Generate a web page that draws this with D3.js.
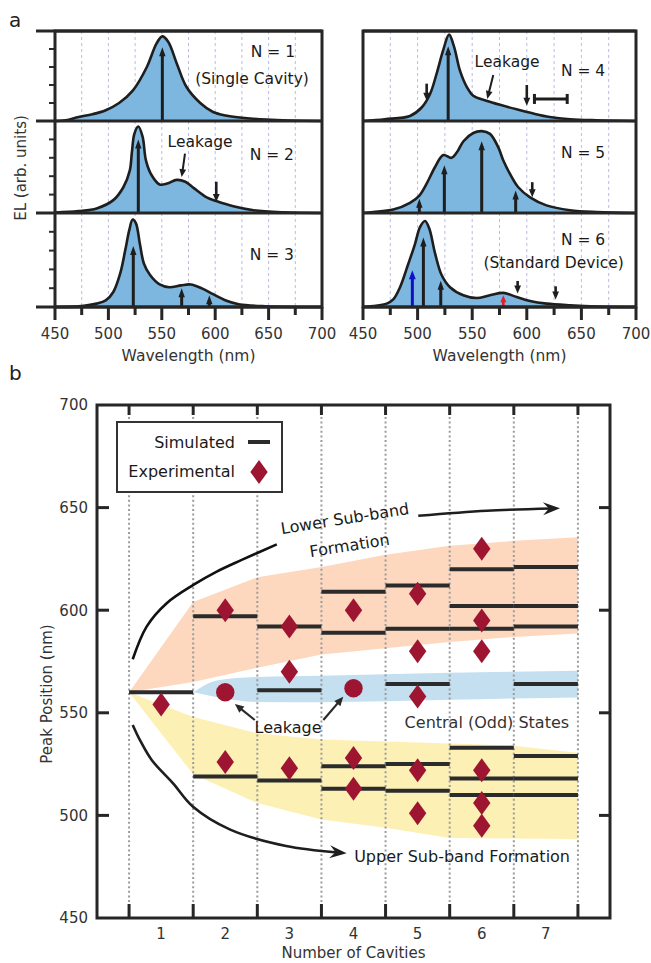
<!DOCTYPE html>
<html>
<head>
<meta charset="utf-8">
<script src="https://cdn.jsdelivr.net/npm/d3@7/dist/d3.min.js"></script>
<style>
  body { margin: 0; background: #fff; }
  text { font-family: "DejaVu Sans", sans-serif; fill: #2a2a2a; }
</style>
</head>
<body>
<svg id="fig" width="651" height="963"></svg>
<script>
// ---------- panel a: EL spectra, [wavelength (nm), normalised EL]
const specN1 = [[450,0],[460,0.008],[472,0.044],[485,0.075],[497.5,0.12],[510,0.2],[523,0.34],[536,0.6],[545,0.86],[550.5,0.94],[556,0.88],[564,0.64],[573,0.38],[586,0.2],[598,0.1],[610,0.06],[623,0.038],[648,0.015],[670,0.005],[700,0]];
const specN2 = [[450,0.004],[472,0.02],[489,0.05],[504.6,0.14],[514,0.28],[520,0.46],[522,0.66],[524.3,0.86],[528,0.94],[532,0.83],[535.2,0.57],[540.5,0.41],[548,0.31],[555,0.32],[564,0.36],[572,0.34],[580,0.27],[592,0.17],[601,0.13],[617,0.073],[636,0.03],[664,0.008],[700,0]];
const specN3 = [[450,0],[472,0.007],[489,0.036],[497.5,0.07],[504.6,0.16],[511,0.355],[515.7,0.6],[519.6,0.82],[522.7,0.93],[525.8,0.89],[529.5,0.67],[533.3,0.46],[539,0.34],[548,0.24],[557,0.21],[568,0.23],[577,0.24],[588,0.195],[597.5,0.14],[610,0.07],[622,0.03],[647,0.008],[700,0]];
const specN4 = [[450,0],[470,0.02],[493,0.056],[503.7,0.15],[511.4,0.3],[517.5,0.53],[523.5,0.79],[528.8,0.96],[533.3,0.83],[538.8,0.56],[545,0.38],[551,0.28],[563,0.226],[575.5,0.18],[590.7,0.13],[606,0.083],[621,0.045],[639.6,0.02],[664,0.008],[700,0]];
const specN5 = [[450,0],[459.5,0.01],[477.7,0.037],[493,0.11],[501.6,0.19],[508.3,0.32],[516,0.5],[523.5,0.63],[531,0.6],[536,0.66],[542,0.78],[551,0.87],[558.7,0.89],[566.3,0.86],[574,0.71],[578.5,0.57],[584.6,0.425],[592.2,0.28],[603,0.17],[618,0.083],[639.6,0.03],[664,0.01],[700,0]];
const specN6 = [[450,0],[459.4,0.01],[471.7,0.036],[477.7,0.08],[483.9,0.21],[491.5,0.46],[497.6,0.67],[502.2,0.85],[506.8,0.915],[510.7,0.835],[516,0.57],[522,0.34],[529.7,0.21],[541.8,0.125],[554,0.096],[566.3,0.125],[578.5,0.15],[590.7,0.106],[603,0.064],[618.2,0.036],[639.6,0.018],[664,0.005],[700,0]];
const spectra = [specN1, specN2, specN3, specN4, specN5, specN6];

// arrows: up = [nm, top], down = [nm, from, to]
const upArrows = [[[550.5,0.82]], [[528,0.8]], [[523.3,0.65],[568.6,0.2],[594.5,0.125]], [[528,0.83]], [[501.6,0.155],[524.5,0.52],[558.7,0.78],[589.8,0.245]], [[505.3,0.74],[521.2,0.28]]];
const downArrows = [[], [[601,0.34,0.12]], [], [[508.3,0.415,0.226],[600,0.4,0.17]], [[605,0.335,0.17]], [[591.6,0.277,0.143],[626.4,0.22,0.079]]];
const blueArrowsN6 = [[495.2,0.39]];
const redArrowsN6 = [[578.5,0.125]];
const leakArrowN2 = [[571.7,0.645],[568.6,0.39]];
const leakArrowN4 = [[569.3,0.51],[563.8,0.245]];
const scaleBarN4 = [607, 637, 0.245];

// panel texts: [text, nm (centre), EL (baseline)]
const panelTexts = [
  [["N = 1",654,0.706],["(Single Cavity)",634.5,0.41]],
  [["Leakage",585.8,0.717],["N = 2",653,0.576]],
  [["N = 3",653,0.5]],
  [["Leakage",581.9,0.6],["N = 4",651.5,0.5]],
  [["N = 5",651.5,0.6]],
  [["N = 6",651.5,0.66],["(Standard Device)",624.6,0.415]]
];
const wlTicks = [450,500,550,600,650,700];
const wlMinor = [475,525,575,625,675];
const wlGrid = [475,500,525,550,575,600,625,650,675];
const elTicks = [0.2,0.4,0.6,0.8];

// ---------- panel b: peak positions
const cavities = [1,2,3,4,5,6,7];
const simulated = [[560],[597,519],[592,561,517],[609,589,524,513],[612,591,564,525,512],[620,602,591,533,518,510],[621,602,592,564,529,518,510]];
const experimental = [[554],[600,526],[592,570,523],[600,528,513],[608,580,558,522,501],[630,595,580,522,506,495],[]];
const leakagePts = [[2,560],[4,562]];
const bandX = [0.5,1.5,2.5,3.5,4.5,5.5,6.5,7.5];
const lowerBandTop = [560,604,616,621,627,631.4,633.8,635.5];
const lowerBandBot = [560,565,572,578.4,581.5,584.5,587,588.7];
const upperBandTop = [560,548,540,537,536,535,534,530.5];
const upperBandBot = [560,520,506,498,494,489,488.7,488.5];
const centralX = [1.5,1.87,2.5,3.5,4.5,5.5,6.5,7.5];
const centralTop = [560,565.8,567.5,568,568.8,569.5,570,570.5];
const centralBot = [560,557.6,555.3,555.2,555.6,556.3,557,557.5];
const peakTicks = [450,500,550,600,650,700];
const cellEdges = [0.5,1.5,2.5,3.5,4.5,5.5,6.5,7.5];
// annotation paths in (cavities, nm)
const arcLowerBand = [[0.557,576.1],[0.774,592],[1.087,603.4],[1.502,612.3],[1.867,618.8],[2.257,624.5],[2.803,632.1]];
const arrowLowerBand = [[5.01,646],[6.08,648.5],[7.22,649.7]];
const arcUpperBand = [[0.557,544.1],[0.67,536.7],[0.853,527],[1.186,515.6],[1.498,504.2],[2.069,493.2],[2.949,485.1],[3.892,481.5]];
const leakArrowsB = [[[2.46,546.5],[2.15,554.3]], [[3.53,546.5],[3.84,557.8]]];

const svg = d3.select('#fig');
const INK = '#1e1e1e';

function drawArrow(g, p1, p2, o) {
  const {color = INK, width = 2.5, hl = 8, hw = 3.5, notch = 0} = o || {};
  const dx = p2[0] - p1[0], dy = p2[1] - p1[1], L = Math.hypot(dx, dy), ux = dx / L, uy = dy / L;
  const bx = p2[0] - ux * hl, by = p2[1] - uy * hl;
  g.append('line')
    .attr('x1', p1[0]).attr('y1', p1[1])
    .attr('x2', p2[0] - ux * hl * 0.6).attr('y2', p2[1] - uy * hl * 0.6)
    .attr('stroke', color).attr('stroke-width', width);
  const nx = p2[0] - ux * hl * (1 - notch), ny = p2[1] - uy * hl * (1 - notch);
  g.append('path')
    .attr('d', `M${p2[0]},${p2[1]}L${bx - uy * hw},${by + ux * hw}L${nx},${ny}L${bx + uy * hw},${by - ux * hw}Z`)
    .attr('fill', color);
}

function curveArrow(g, pts, o) {
  const {color = INK, width = 2.5, hl = 16, hw = 6, notch = 0.3} = o || {};
  const p = g.append('path')
    .attr('d', d3.line().curve(d3.curveCatmullRom)(pts))
    .attr('fill', 'none').attr('stroke', color).attr('stroke-width', width);
  const node = p.node(), tot = node.getTotalLength();
  p.attr('stroke-dasharray', `${tot - hl * 0.5} ${tot}`);
  const a = node.getPointAtLength(tot - hl), b = node.getPointAtLength(tot);
  const dx = b.x - a.x, dy = b.y - a.y, L = Math.hypot(dx, dy), ux = dx / L, uy = dy / L;
  const bx = b.x - ux * hl, by = b.y - uy * hl;
  const nx = b.x - ux * hl * (1 - notch), ny = b.y - uy * hl * (1 - notch);
  g.append('path')
    .attr('d', `M${b.x},${b.y}L${bx - uy * hw},${by + ux * hw}L${nx},${ny}L${bx + uy * hw},${by - ux * hw}Z`)
    .attr('fill', color);
}

// ================= panel a =================
const colX = [[55, 322], [363, 636]];
const rowY = [31, 121, 213, 307];
const ga = svg.append('g');

spectra.forEach((spec, i) => {
  const col = i < 3 ? 0 : 1, row = i % 3;
  const x = d3.scaleLinear().domain([450, 700]).range(colX[col]);
  const y = d3.scaleLinear().domain([0, 1]).range([rowY[row + 1], rowY[row]]);
  const g = ga.append('g');

  g.selectAll('line.grid').data(wlGrid).join('line')
    .attr('x1', d => x(d)).attr('x2', d => x(d))
    .attr('y1', rowY[row]).attr('y2', rowY[row + 1])
    .attr('stroke', '#b9b9f0').attr('stroke-width', 1).attr('stroke-dasharray', '3,3');

  g.append('path').datum(spec)
    .attr('d', d3.area().curve(d3.curveCatmullRom).x(d => x(d[0])).y0(y(0)).y1(d => y(d[1])))
    .attr('fill', '#7db7df');
  g.append('path').datum(spec)
    .attr('d', d3.line().curve(d3.curveCatmullRom).x(d => x(d[0])).y(d => y(d[1])))
    .attr('fill', 'none').attr('stroke', INK).attr('stroke-width', 2.6);

  upArrows[i].forEach(d => drawArrow(g, [x(d[0]), y(0)], [x(d[0]), y(d[1])], {width: 3, hl: 9, hw: 3.2}));
  downArrows[i].forEach(d => drawArrow(g, [x(d[0]), y(d[1])], [x(d[0]), y(d[2])], {width: 2.6, hl: 8, hw: 3.4}));
  if (i === 5) {
    blueArrowsN6.forEach(d => drawArrow(g, [x(d[0]), y(0)], [x(d[0]), y(d[1])], {color: '#1010c8', width: 3, hl: 9, hw: 3.4}));
    redArrowsN6.forEach(d => drawArrow(g, [x(d[0]), y(0)], [x(d[0]), y(d[1])], {color: '#e0202a', width: 2.6, hl: 7, hw: 3}));
  }
  if (i === 1) drawArrow(g, [x(leakArrowN2[0][0]), y(leakArrowN2[0][1])], [x(leakArrowN2[1][0]), y(leakArrowN2[1][1])], {width: 2, hl: 8, hw: 3.4});
  if (i === 3) {
    drawArrow(g, [x(leakArrowN4[0][0]), y(leakArrowN4[0][1])], [x(leakArrowN4[1][0]), y(leakArrowN4[1][1])], {width: 2, hl: 8, hw: 3.4});
    const sb = g.append('g').attr('stroke', INK).attr('stroke-width', 3);
    sb.append('line').attr('x1', x(scaleBarN4[0])).attr('x2', x(scaleBarN4[1])).attr('y1', y(scaleBarN4[2])).attr('y2', y(scaleBarN4[2]));
    [scaleBarN4[0], scaleBarN4[1]].forEach(v => sb.append('line')
      .attr('x1', x(v)).attr('x2', x(v)).attr('y1', y(scaleBarN4[2]) - 5).attr('y2', y(scaleBarN4[2]) + 5));
  }

  g.selectAll('text.lab').data(panelTexts[i]).join('text')
    .attr('x', d => x(d[1])).attr('y', d => y(d[2]))
    .attr('text-anchor', 'middle').style('font-size', '15.5px').style('fill', '#1a1a1a')
    .text(d => d[0]);

  if (col === 0) {
    g.selectAll('line.yt').data(elTicks).join('line')
      .attr('x1', colX[0][0] - 6).attr('x2', colX[0][0])
      .attr('y1', d => y(d)).attr('y2', d => y(d))
      .attr('stroke', '#2a2a2a').attr('stroke-width', 2);
  }
});

// frames and wavelength axes
colX.forEach((cx, col) => {
  const x = d3.scaleLinear().domain([450, 700]).range(cx);
  const f = ga.append('g').attr('stroke', '#262626').attr('stroke-width', 3).attr('fill', 'none');
  f.append('rect').attr('x', cx[0]).attr('y', rowY[0]).attr('width', cx[1] - cx[0]).attr('height', rowY[3] - rowY[0]);
  f.selectAll('line.sep').data(rowY).join('line')
    .attr('x1', col === 0 ? 36 : cx[0]).attr('x2', cx[1])
    .attr('y1', d => d).attr('y2', d => d);
  f.selectAll('line.maj').data(wlTicks).join('line')
    .attr('x1', d => x(d)).attr('x2', d => x(d)).attr('y1', rowY[3]).attr('y2', rowY[3] + 13);
  f.selectAll('line.min').data(wlMinor).join('line')
    .attr('x1', d => x(d)).attr('x2', d => x(d)).attr('y1', rowY[3]).attr('y2', rowY[3] + 8);
  ga.selectAll(null).data(wlTicks).join('text')
    .attr('x', d => x(d)).attr('y', 339)
    .attr('text-anchor', 'middle').style('font-size', '15px').style('fill', '#333')
    .text(d => d);
  ga.append('text').attr('x', (cx[0] + cx[1]) / 2).attr('y', 361)
    .attr('text-anchor', 'middle').style('font-size', '15.5px').style('fill', '#333')
    .text('Wavelength (nm)');
});
ga.append('text').attr('transform', 'translate(26,168) rotate(-90)')
  .attr('text-anchor', 'middle').style('font-size', '15px').style('fill', '#333')
  .text('EL (arb. units)');
svg.append('text').attr('x', 9).attr('y', 27).style('font-size', '20px').style('fill', '#222').text('a');
svg.append('text').attr('x', 9).attr('y', 380).style('font-size', '20px').style('fill', '#222').text('b');

// ================= panel b =================
const xb = d3.scaleLinear().domain([0, 8]).range([97, 610]);
const yb = d3.scaleLinear().domain([450, 700]).range([918, 405]);
const gb = svg.append('g');

const band = d3.area().x(d => xb(d[0])).y0(d => yb(d[1])).y1(d => yb(d[2]));
gb.append('path').attr('d', band(d3.zip(bandX, lowerBandBot, lowerBandTop))).attr('fill', '#fdd8bf');
gb.append('path').attr('d', band(d3.zip(bandX, upperBandBot, upperBandTop))).attr('fill', '#fdf0b4');
gb.append('path').attr('d', band.curve(d3.curveMonotoneX)(d3.zip(centralX, centralBot, centralTop))).attr('fill', '#c3dff0');

gb.selectAll('line.vg').data(cellEdges).join('line')
  .attr('x1', d => xb(d)).attr('x2', d => xb(d))
  .attr('y1', yb(700) + 12).attr('y2', yb(450) - 14)
  .attr('stroke', '#9c9c9c').attr('stroke-width', 2).attr('stroke-dasharray', '2,2.6');

// simulated levels
const simRows = simulated.flatMap((vals, i) => vals.map(v => [cavities[i], v]));
gb.selectAll('line.sim').data(simRows).join('line')
  .attr('x1', d => xb(d[0] - 0.5)).attr('x2', d => xb(d[0] + 0.5))
  .attr('y1', d => yb(d[1])).attr('y2', d => yb(d[1]))
  .attr('stroke', '#2b2b2b').attr('stroke-width', 4);

// experimental peaks
const RED = '#9d1530';
const diamond = 'M0,-12L8.7,0L0,12L-8.7,0Z';
const expRows = experimental.flatMap((vals, i) => vals.map(v => [cavities[i], v]));
gb.selectAll('path.exp').data(expRows).join('path')
  .attr('d', diamond).attr('transform', d => `translate(${xb(d[0])},${yb(d[1])})`)
  .attr('fill', RED);
gb.selectAll('circle.leak').data(leakagePts).join('circle')
  .attr('cx', d => xb(d[0])).attr('cy', d => yb(d[1])).attr('r', 9.2).attr('fill', RED);

// annotations
const pxl = pts => pts.map(d => [xb(d[0]), yb(d[1])]);
gb.append('path').attr('d', d3.line().curve(d3.curveCatmullRom)(pxl(arcLowerBand)))
  .attr('fill', 'none').attr('stroke', '#111').attr('stroke-width', 2.6);
curveArrow(gb, pxl(arrowLowerBand), {width: 2.6, hl: 17, hw: 6.5, notch: 0.35});
curveArrow(gb, pxl(arcUpperBand), {width: 2.6, hl: 17, hw: 6.5, notch: 0.35});
leakArrowsB.forEach(a => drawArrow(gb, [xb(a[0][0]), yb(a[0][1])], [xb(a[1][0]), yb(a[1][1])], {color: '#2a2a2a', width: 2.2, hl: 9, hw: 4}));

const noteStyle = t => t.style('font-size', '16px').style('fill', '#1a1a1a');
gb.append('text').attr('x', xb(2.98)).attr('y', yb(540)).attr('text-anchor', 'middle').call(noteStyle).text('Leakage');
gb.append('text').attr('x', xb(6.08)).attr('y', yb(542.6)).attr('text-anchor', 'middle').call(noteStyle).style('fill', '#333').text('Central (Odd) States');
gb.append('text').attr('x', xb(4.01)).attr('y', yb(477.3)).call(noteStyle).text('Upper Sub-band Formation');
gb.append('text').attr('transform', `translate(${xb(3.88)},${yb(642)}) rotate(-9)`).attr('text-anchor', 'middle').call(noteStyle).text('Lower Sub-band');
gb.append('text').attr('transform', `translate(${xb(3.95)},${yb(628.9)}) rotate(-9)`).attr('text-anchor', 'middle').call(noteStyle).text('Formation');

// frame and ticks
const fb = gb.append('g').attr('stroke', '#262626').attr('stroke-width', 3).attr('fill', 'none');
fb.append('rect').attr('x', xb(0)).attr('y', yb(700)).attr('width', xb(8) - xb(0)).attr('height', yb(450) - yb(700));
fb.selectAll('line.tt').data(cellEdges).join('line')
  .attr('x1', d => xb(d)).attr('x2', d => xb(d)).attr('y1', yb(700)).attr('y2', yb(700) + 10);
fb.selectAll('line.bt').data(cellEdges).join('line')
  .attr('x1', d => xb(d)).attr('x2', d => xb(d)).attr('y1', yb(450)).attr('y2', yb(450) - 14);
const innerY = peakTicks.slice(1, -1);
fb.selectAll('line.lt').data(innerY).join('line')
  .attr('x1', xb(0)).attr('x2', xb(0) + 12).attr('y1', d => yb(d)).attr('y2', d => yb(d));
fb.selectAll('line.rt').data(innerY).join('line')
  .attr('x1', xb(8) + 1).attr('x2', xb(8) - 11).attr('y1', d => yb(d)).attr('y2', d => yb(d));

gb.selectAll('text.yl').data(peakTicks).join('text')
  .attr('x', 88).attr('y', d => yb(d)).attr('dy', '0.36em')
  .attr('text-anchor', 'end').style('font-size', '15px').style('fill', '#333')
  .text(d => d);
gb.selectAll('text.xl').data(cavities).join('text')
  .attr('x', d => xb(d)).attr('y', 939)
  .attr('text-anchor', 'middle').style('font-size', '15px').style('fill', '#333')
  .text(d => d);
gb.append('text').attr('x', xb(4)).attr('y', 958).attr('text-anchor', 'middle')
  .style('font-size', '15px').style('fill', '#333').text('Number of Cavities');
gb.append('text').attr('transform', 'translate(52,694) rotate(-90)').attr('text-anchor', 'middle')
  .style('font-size', '15px').style('fill', '#333').text('Peak Position (nm)');

// legend
const lg = gb.append('g');
lg.append('rect').attr('x', 117).attr('y', 422).attr('width', 165).attr('height', 70)
  .attr('fill', '#fff').attr('stroke', '#333').attr('stroke-width', 2);
lg.append('text').attr('x', 235).attr('y', 448).attr('text-anchor', 'end').style('font-size', '16px').style('fill', '#1a1a1a').text('Simulated');
lg.append('line').attr('x1', 248).attr('x2', 270).attr('y1', 442).attr('y2', 442).attr('stroke', '#2b2b2b').attr('stroke-width', 4);
lg.append('text').attr('x', 235).attr('y', 477).attr('text-anchor', 'end').style('font-size', '16px').style('fill', '#1a1a1a').text('Experimental');
lg.append('path').attr('d', diamond).attr('transform', 'translate(259,472)').attr('fill', RED);
</script>
</body>
</html>
